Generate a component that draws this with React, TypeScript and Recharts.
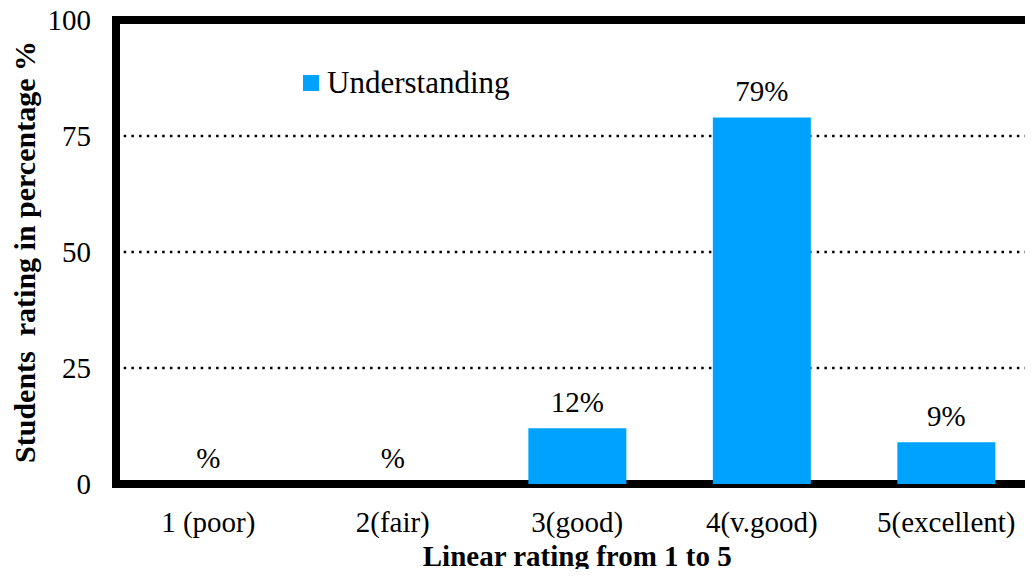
import React from "react";
import {
  ComposedChart,
  Bar,
  Line,
  XAxis,
  YAxis,
  CartesianGrid,
  ReferenceArea,
  LabelList,
  Legend,
} from "recharts";

// Ratings on a 1–5 scale and the share of students choosing each
const categories = ["1 (poor)", "2(fair)", "3(good)", "4(v.good)", "5(excellent)"];
const understanding = [0, 0, 12, 79, 9];
const yTicks = [0, 25, 50, 75, 100];

const data = categories.map((name, i) => ({ name, understanding: understanding[i] }));

const FONT = "'Liberation Serif', 'Times New Roman', serif";
const BLUE = "#00A2FF";

const pctLabel = (v: any) => (v ? `${v}%` : "%");

const LegendContent = () => (
  <div style={{ display: "flex", alignItems: "center", fontFamily: FONT, fontSize: 31, color: "#000", whiteSpace: "nowrap" }}>
    <span style={{ width: 16, height: 16, background: BLUE, display: "inline-block", marginRight: 8 }} />
    <span>Understanding</span>
  </div>
);

// Value label centred above each bar top (also shown for empty categories)
const ValueLabel = (props: any) => {
  const { x, y, value } = props;
  return (
    <text x={x} y={Number(y) - 16} textAnchor="middle" fontFamily={FONT} fontSize={29} fill="#000">
      {pctLabel(value)}
    </text>
  );
};

export default function App() {
  return (
    <div style={{ margin: -8, width: 1033, height: 577, overflow: "hidden", background: "#fff", position: "relative" }}>
      <ComposedChart
        width={1060}
        height={577}
        data={data}
        margin={{ top: 20, right: 21.5, bottom: 0, left: 0 }}
        barCategoryGap="23.5%"
      >
        <CartesianGrid
          vertical={false}
          stroke="#000"
          strokeWidth={2.5}
          strokeDasharray="2.5 5.2"
        />
        <XAxis
          dataKey="name"
          height={93}
          tickLine={false}
          tickSize={0}
          tickMargin={27}
          axisLine={false}
          tick={{ fontFamily: FONT, fontSize: 29, fill: "#000" }}
          label={{
            value: "Linear rating from 1 to 5",
            position: "insideBottom",
            offset: 11,
            style: { fontFamily: FONT, fontSize: 29, fontWeight: "bold", fill: "#000" },
          }}
        />
        <YAxis
          width={116}
          domain={[0, 100]}
          ticks={yTicks}
          tickLine={false}
          tickSize={0}
          tickMargin={25}
          axisLine={false}
          tick={{ fontFamily: FONT, fontSize: 29, fill: "#000" }}
          label={{
            value: "Students\u00A0 rating in percentage %",
            angle: -90,
            position: "insideLeft",
            offset: 24,
            style: { fontFamily: FONT, fontSize: 30, fontWeight: "bold", fill: "#000", textAnchor: "middle" },
          }}
        />
        <Legend
          verticalAlign="middle"
          align="center"
          content={<LegendContent />}
          wrapperStyle={{ top: 65, left: 303, width: "auto", height: "auto" }}
        />
        <Bar dataKey="understanding" fill={BLUE} isAnimationActive={false} legendType="none" />
        <Line
          dataKey="understanding"
          stroke="none"
          dot={false}
          activeDot={false}
          legendType="none"
          isAnimationActive={false}
        >
          <LabelList dataKey="understanding" content={ValueLabel} />
        </Line>
        <ReferenceArea y1={0} y2={100} fill="none" stroke="#000" strokeWidth={8} ifOverflow="visible" />
      </ComposedChart>
    </div>
  );
}
